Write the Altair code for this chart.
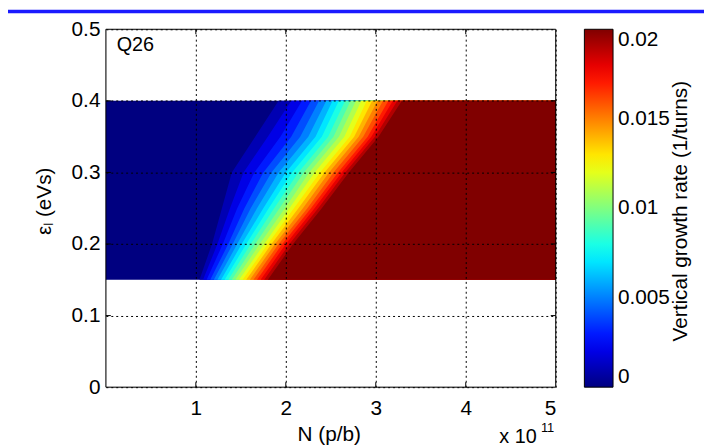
import altair as alt
import pandas as pd

# ---------------- data ----------------
eps_rows = [0.15, 0.20, 0.25, 0.30, 0.35, 0.40]
levels = [0.001, 0.002, 0.003, 0.004, 0.005, 0.006, 0.007, 0.008, 0.009, 0.010,
          0.011, 0.012, 0.013, 0.014, 0.015, 0.016, 0.017, 0.018, 0.019, 0.020]
# N position (x 1e11) of each contour level, one list per epsilon row
n_at_015 = [1.04, 1.08, 1.12, 1.16, 1.20, 1.24, 1.28, 1.32, 1.36, 1.40,
            1.44, 1.48, 1.52, 1.56, 1.60, 1.64, 1.68, 1.72, 1.76, 1.80]
n_at_020 = [1.18, 1.24, 1.30, 1.36, 1.41, 1.46, 1.51, 1.56, 1.61, 1.66,
            1.71, 1.76, 1.80, 1.84, 1.88, 1.92, 1.96, 2.00, 2.04, 2.08]
n_at_025 = [1.29, 1.38, 1.46, 1.54, 1.61, 1.68, 1.75, 1.81, 1.87, 1.93,
            1.99, 2.04, 2.09, 2.14, 2.19, 2.24, 2.28, 2.32, 2.36, 2.40]
n_at_030 = [1.40, 1.53, 1.65, 1.75, 1.84, 1.92, 2.00, 2.07, 2.14, 2.20,
            2.26, 2.32, 2.38, 2.43, 2.48, 2.53, 2.58, 2.62, 2.66, 2.70]
n_at_035 = [1.66, 1.80, 1.94, 2.06, 2.16, 2.25, 2.33, 2.40, 2.47, 2.53,
            2.59, 2.65, 2.71, 2.76, 2.81, 2.86, 2.91, 2.95, 2.99, 3.03]
n_at_040 = [1.92, 2.06, 2.18, 2.28, 2.37, 2.45, 2.52, 2.59, 2.66, 2.72,
            2.78, 2.84, 2.90, 2.96, 3.02, 3.08, 3.14, 3.19, 3.24, 3.29]
n_min, n_max = 0.0, 5.0

x_ticks = [1, 2, 3, 4, 5]
y_ticks = [0, 0.1, 0.2, 0.3, 0.4, 0.5]
x_inner_ticks = [1, 2, 3, 4]
y_inner_ticks = [0.1, 0.2, 0.3, 0.4]
cbar_ticks = [0, 0.005, 0.01, 0.015, 0.02]
cbar_inner_ticks = [0.005, 0.01, 0.015]

# ---------------- layout / style ----------------
W, H = 455, 362
FONT = "Liberation Sans"
FS = 21
CBX = 484  # colorbar left edge, relative to the plot area
jet_domain = [0, 0.0025, 0.0075, 0.0125, 0.0175, 0.02]
jet_range = ["#000080", "#0000ff", "#00ffff", "#ffff00", "#ff0000", "#800000"]

rows_by_eps = [n_at_015, n_at_020, n_at_025, n_at_030, n_at_035, n_at_040]
recs = []
for e in [eps_rows[0], eps_rows[-1]]:
    recs.append({"band": 0, "lev": 0.0, "eps": e, "n0": n_min, "n1": n_max})
for k, lev in enumerate(levels):
    for i, e in enumerate(eps_rows):
        recs.append({"band": k + 1, "lev": lev, "eps": e,
                     "n0": rows_by_eps[i][k], "n1": n_max})
df = pd.DataFrame(recs)

xenc = alt.X("n0:Q", scale=alt.Scale(domain=[0, 5], nice=False, zero=False),
             axis=alt.Axis(values=x_ticks, format="d", title=None, labelFontSize=FS,
                           labelFont=FONT, labelColor="black", labelPadding=11,
                           ticks=False, domain=False,
                           grid=True, gridColor="black", gridDash=[2, 3], gridWidth=1,
                           gridOpacity=1, zindex=1))
yenc = alt.Y("eps:Q", scale=alt.Scale(domain=[0, 0.5], nice=False, zero=False),
             axis=alt.Axis(values=y_ticks, title=None, labelFontSize=FS, labelFont=FONT,
                           labelColor="black", labelPadding=6, ticks=False, domain=False,
                           labelExpr="datum.value == 0 ? '0' : format(datum.value, '.1f')",
                           grid=True, gridColor="black", gridDash=[2, 3], gridWidth=1,
                           gridOpacity=1, zindex=1))
cenc = alt.Color("lev:Q",
                 scale=alt.Scale(domain=jet_domain, range=jet_range, interpolate="rgb"),
                 legend=alt.Legend(orient="none", legendX=CBX, legendY=0, direction="vertical",
                                   gradientLength=H, gradientThickness=29,
                                   gradientStrokeColor="black", gradientStrokeWidth=1,
                                   values=cbar_ticks, labelFontSize=FS, labelFont=FONT,
                                   labelColor="black", labelOffset=5, labelBaseline="middle",
                                   labelOverlap=False, labelExpr="datum.value + ''",
                                   title=None, padding=0))

layers = []
for b in range(0, len(levels) + 1):
    layers.append(
        alt.Chart(df).transform_filter(alt.datum.band == b)
        .mark_area(orient="horizontal")
        .encode(y=yenc, x=xenc, x2="n1:Q", color=cenc)
    )

one = pd.DataFrame({"a": [0]})
xt = pd.DataFrame({"t": x_inner_ticks})
yt = pd.DataFrame({"t": y_inner_ticks})
ct = pd.DataFrame({"v": cbar_inner_ticks})

tick_bottom = alt.Chart(xt).mark_rule(color="black").encode(
    x=alt.X("t:Q"), y=alt.value(H), y2=alt.value(H - 5))
tick_top = alt.Chart(xt).mark_rule(color="black").encode(
    x=alt.X("t:Q"), y=alt.value(0), y2=alt.value(5))
tick_left = alt.Chart(yt).mark_rule(color="black").encode(
    y=alt.Y("t:Q"), x=alt.value(0), x2=alt.value(5))
tick_right = alt.Chart(yt).mark_rule(color="black").encode(
    y=alt.Y("t:Q"), x=alt.value(W), x2=alt.value(W - 5))
cb_l = alt.Chart(ct).transform_calculate(e="datum.v * 25").mark_rule(color="black").encode(
    y=alt.Y("e:Q"), x=alt.value(CBX), x2=alt.value(CBX + 4))
cb_r = alt.Chart(ct).transform_calculate(e="datum.v * 25").mark_rule(color="black").encode(
    y=alt.Y("e:Q"), x=alt.value(CBX + 29), x2=alt.value(CBX + 25))

box = alt.Chart(one).mark_rect(fillOpacity=0, stroke="black", strokeWidth=1).encode(
    x=alt.value(0), x2=alt.value(W), y=alt.value(0), y2=alt.value(H))

q26 = alt.Chart(one).mark_text(text="Q26", font=FONT, fontSize=FS - 1, align="left",
                               baseline="middle", color="black").encode(
    x=alt.datum(0.12), y=alt.datum(0.478))
xtitle = alt.Chart(one).mark_text(text="N (p/b)", font=FONT, fontSize=FS, align="center",
                                  baseline="middle", color="black").encode(
    x=alt.value(226), y=alt.value(410))
xmult = alt.Chart(one).mark_text(text="x 10", font=FONT, fontSize=FS - 1, align="left",
                                 baseline="middle", color="black").encode(
    x=alt.value(398), y=alt.value(412))
xexp = alt.Chart(one).mark_text(text="11", font=FONT, fontSize=13, align="left",
                                baseline="middle", color="black").encode(
    x=alt.value(440), y=alt.value(403))
ytitle = alt.Chart(one).mark_text(text="εₗ (eVs)", font=FONT, fontSize=FS, align="center",
                                  baseline="middle", angle=270, color="black").encode(
    x=alt.value(-62), y=alt.value(174))
ctitle = alt.Chart(one).mark_text(text="Vertical growth rate (1/turns)", font=FONT,
                                  fontSize=FS, align="center", baseline="middle",
                                  angle=270, color="black").encode(
    x=alt.value(582), y=alt.value(184))
topline = alt.Chart(one).mark_rule(color="#1a1aff", strokeWidth=3.5).encode(
    x=alt.value(-99), x2=alt.value(606), y=alt.value(-18))

chart = alt.layer(*layers, tick_bottom, tick_top, tick_left, tick_right, cb_l, cb_r, box,
                  q26, xtitle, xmult, xexp, ytitle, ctitle, topline).properties(
    width=W, height=H,
    autosize=alt.AutoSizeParams(type="none"),
    padding={"left": 99, "top": 19, "right": 150, "bottom": 58},
).configure_view(stroke=None).configure(background="white")

chart.save("out.html", embed_options={"renderer": "svg", "actions": False})
